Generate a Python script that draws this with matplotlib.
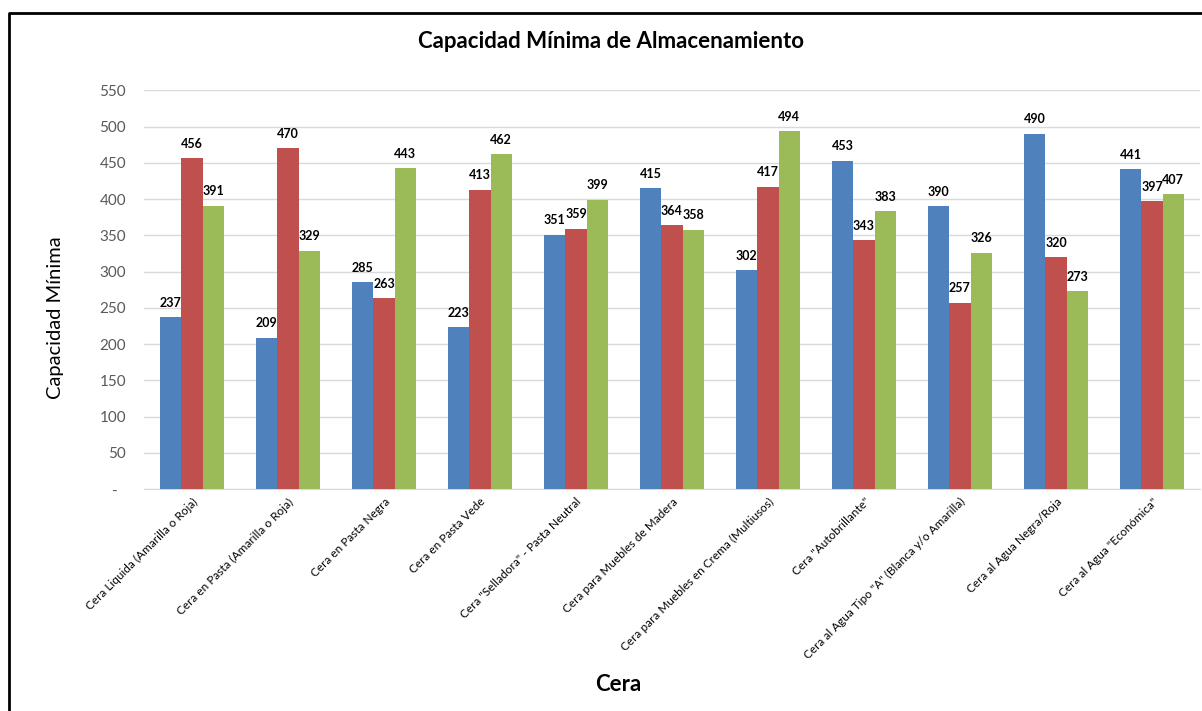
import numpy as np
import matplotlib.pyplot as plt
from matplotlib.lines import Line2D

plt.rcParams['font.family'] = ['Lato', 'DejaVu Sans']

# === datos ===
categorias = [
    'Cera Liquida (Amarilla o Roja)',
    'Cera en Pasta (Amarilla o Roja)',
    'Cera en Pasta Negra',
    'Cera en Pasta Vede',
    'Cera "Selladora" - Pasta Neutral',
    'Cera para Muebles de Madera',
    'Cera para Muebles en Crema (Multiusos)',
    'Cera "Autobrillante"',
    'Cera al Agua Tipo "A" (Blanca y/o Amarilla)',
    'Cera al Agua Negra/Roja',
    'Cera al Agua "Económica"',
]
serie_azul = [237, 209, 285, 223, 351, 415, 302, 453, 390, 490, 441]
serie_roja = [456, 470, 263, 413, 359, 364, 417, 343, 257, 320, 397]
serie_verde = [391, 329, 443, 462, 399, 358, 494, 383, 326, 273, 407]
y_ticks = list(range(0, 551, 50))
y_tick_labels = ['-  '] + [str(v) for v in y_ticks[1:]]

colores = ['#4F81BD', '#C0504D', '#9BBB59']

fig = plt.figure(figsize=(12.02, 7.11), dpi=100)
ax = fig.add_axes([0.1198, 0.312, 0.8785, 0.561])

x = np.arange(len(categorias))
w = 0.22
for i, (serie, col) in enumerate(zip([serie_azul, serie_roja, serie_verde], colores)):
    pos = x + (i - 1) * w
    ax.bar(pos, serie, width=w, color=col, zorder=3)
    for px, v in zip(pos, serie):
        ax.annotate(str(v), (px, v), xytext=(0, 6), textcoords='offset points',
                    ha='center', va='bottom', fontsize=9, fontweight='bold', color='black')

ax.set_xlim(-0.5, len(categorias) - 0.5)
ax.set_ylim(0, 550)
ax.set_yticks(y_ticks)
ax.set_yticklabels(y_tick_labels, fontsize=11, color='#595959')
ax.yaxis.grid(True, color='#d9d9d9', linewidth=1, zorder=0)
ax.tick_params(axis='y', length=0, pad=13)
ax.tick_params(axis='x', length=0, pad=5)
ax.set_xticks(x)
ax.set_xticklabels(categorias, rotation=45, ha='right', rotation_mode='anchor', fontsize=8.5)

for s in ['top', 'right', 'left']:
    ax.spines[s].set_visible(False)
ax.spines['bottom'].set_color('#d9d9d9')

fig.text(0.508, 0.941, 'Capacidad Mínima de Almacenamiento', ha='center', va='center',
         fontsize=16, fontweight='bold')
fig.text(0.046, 0.553, 'Capacidad Mínima', rotation=90, ha='center', va='center', fontsize=14.5)
fig.text(0.514, 0.037, 'Cera', ha='center', va='center', fontsize=16, fontweight='bold')

# marco del gráfico
fig.add_artist(Line2D([0.0075, 0.0075, 1.0], [0.0, 0.982, 0.982], color='black',
                      linewidth=2, transform=fig.transFigure))

fig.savefig('out.png', dpi=100)
